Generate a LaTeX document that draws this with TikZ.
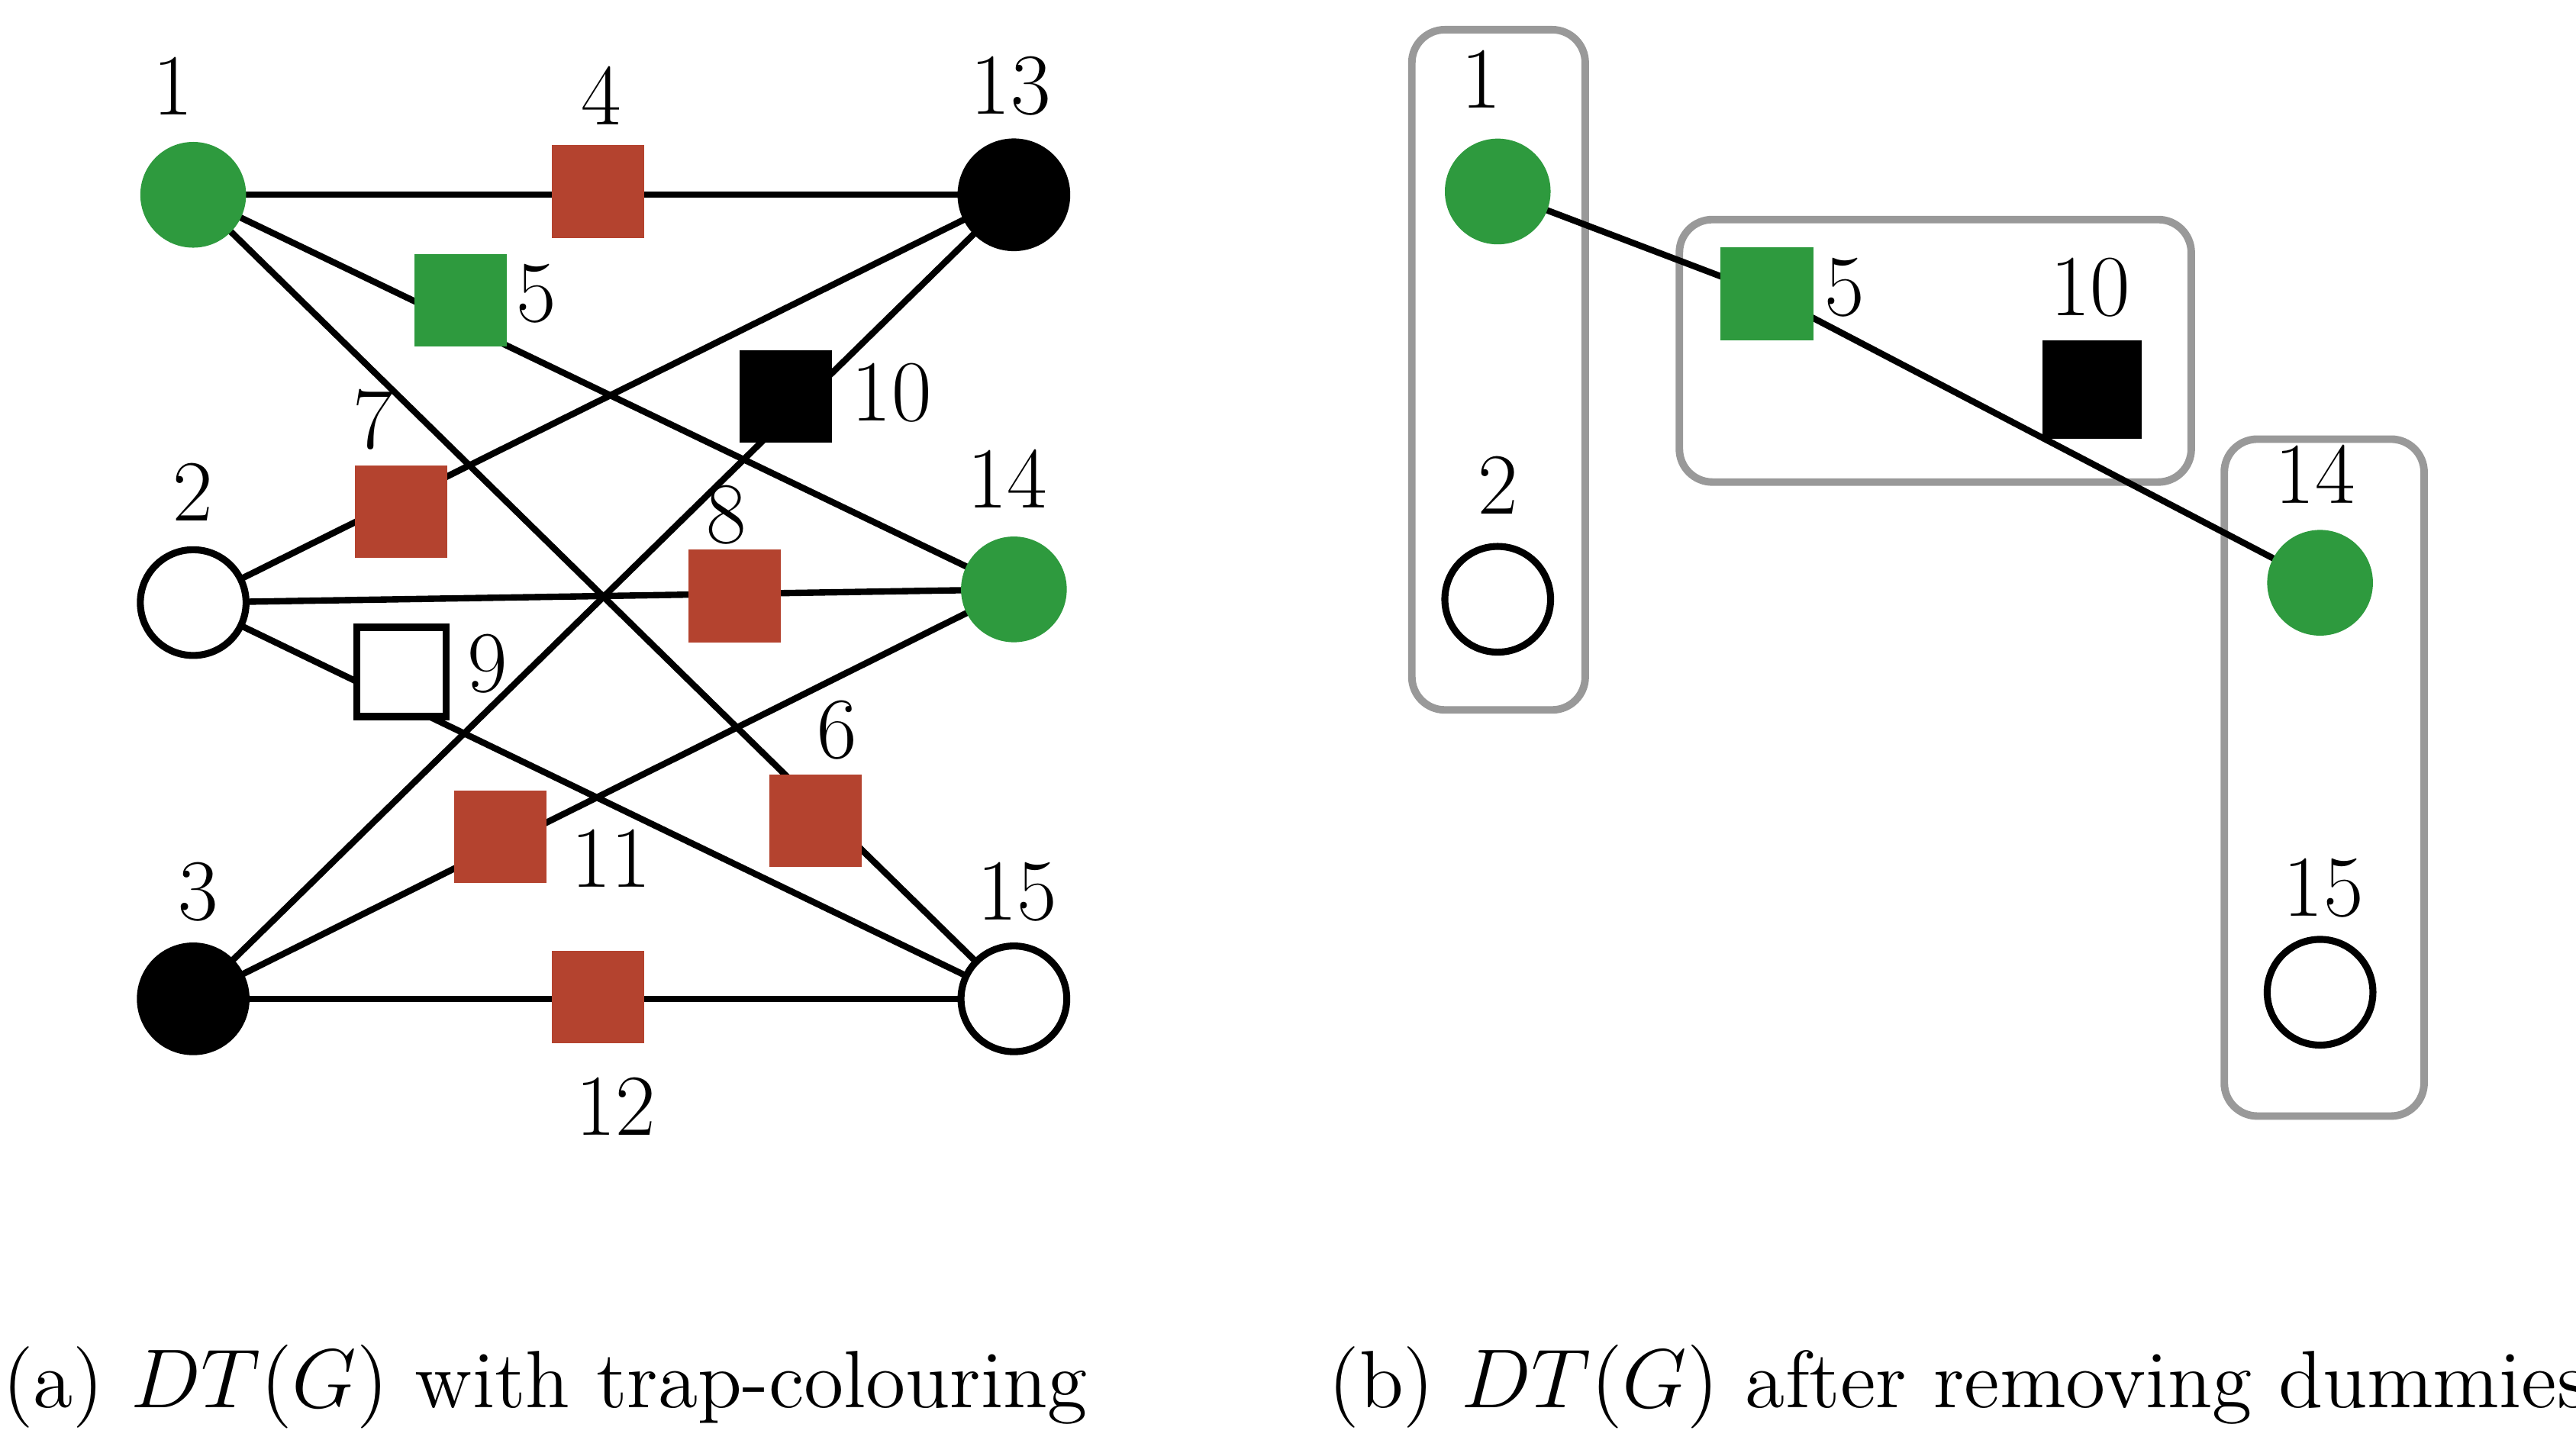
\documentclass[tikz,border=0pt]{standalone}
\begin{document}
\begin{tikzpicture}[x=0.01cm,y=-0.01cm,
  every node/.style={font=\fontsize{15}{17}\selectfont},
  cir/.style={circle,draw=black,line width=1.2pt,minimum size=0.64cm,inner sep=0pt},
  sq/.style={rectangle,minimum size=0.56cm,inner sep=0pt},
  grn/.style={fill=gcol,draw=none},
  red/.style={fill=rcol,draw=none},
  blk/.style={fill=black},
  wht/.style={fill=white,draw=black,line width=1.2pt},
  lbl/.style={inner sep=0pt},
  captext/.style={inner sep=0pt,font=\fontsize{14}{16}\selectfont},
  e/.style={line width=1.1pt},
  grp/.style={draw=gray!80,line width=1.3pt,rounded corners=0.2cm}]
\definecolor{gcol}{HTML}{2E9A3E}
\definecolor{rcol}{HTML}{B4432F}
\useasboundingbox (0,0) rectangle (1560,880);
\coordinate (c1) at (117,118); \coordinate (c13) at (614,118);
\coordinate (c2) at (117,365); \coordinate (c14) at (614,357);
\coordinate (c3) at (117,605); \coordinate (c15) at (614,605);
\draw[e] (c1)--(c13); \draw[e] (c1)--(c14); \draw[e] (c1)--(c15);
\draw[e] (c2)--(c13); \draw[e] (c2)--(c14); \draw[e] (c2)--(c15);
\draw[e] (c3)--(c13); \draw[e] (c3)--(c14); \draw[e] (c3)--(c15);
\node[cir,grn] (n1) at (c1) {}; \node[cir,blk] (n13) at (c13) {};
\node[cir,fill=white] (n2) at (c2) {}; \node[cir,grn] (n14) at (c14) {};
\node[cir,blk] (n3) at (c3) {}; \node[cir,fill=white] (n15) at (c15) {};
\node[sq,red] (s4) at (362,116) {};
\node[sq,grn] (s5) at (279,182) {};
\node[sq,blk] (s10) at (476,240) {};
\node[sq,red] (s7) at (243,310) {};
\node[sq,red] (s8) at (445,361) {};
\node[sq,wht,minimum size=0.54cm] (s9) at (243,407) {};
\node[sq,red] (s11) at (303,507) {};
\node[sq,red] (s6) at (494,497) {};
\node[sq,red] (s12) at (362,604) {};
\node[lbl] (l1) at (105,52) {1}; \node[lbl] (l4) at (364,58) {4};
\node[lbl] (l13) at (612,52) {13}; \node[lbl] (l5) at (325,178) {5};
\node[lbl] (l10) at (540,238) {10}; \node[lbl] (l7) at (226,254) {7};
\node[lbl] (l2) at (117,298) {2}; \node[lbl] (l8) at (440,312) {8};
\node[lbl] (l14) at (610,290) {14}; \node[lbl] (l9) at (295,402) {9};
\node[lbl] (l6) at (507,442) {6}; \node[lbl] (l11) at (370,520) {11};
\node[lbl] (l3) at (120,540) {3}; \node[lbl] (l15) at (616,540) {15};
\node[lbl] (l12) at (373,670) {12};
\draw[grp] (855,18) rectangle (960,430);
\draw[grp] (1017,133) rectangle (1327,292);
\draw[grp] (1347,266) rectangle (1468,676);
\coordinate (r1) at (907,116); \coordinate (r5) at (1070,178); \coordinate (r14) at (1405,353);
\draw[e] (r1)--(r5)--(r14);
\node[cir,grn] (m1) at (r1) {};
\node[cir,fill=white] (m2) at (907,363) {};
\node[sq,grn] (t5) at (r5) {};
\node[sq,blk,minimum size=0.6cm] (t10) at (1267,236) {};
\node[cir,grn] (m14) at (r14) {};
\node[cir,fill=white] (m15) at (1405,601) {};
\node[lbl] (k1) at (897,48) {1}; \node[lbl] (k2) at (907,294) {2};
\node[lbl] (k5) at (1117,174) {5}; \node[lbl] (k10) at (1266,174) {10};
\node[lbl] (k14) at (1402,287) {14}; \node[lbl] (k15) at (1407,538) {15};
\node[captext] (ca) at (330,840) {(a) $DT(G)$ with trap-colouring};
\node[captext] (cb) at (1186,840) {(b) $DT(G)$ after removing dummies};
\end{tikzpicture}
\end{document}
